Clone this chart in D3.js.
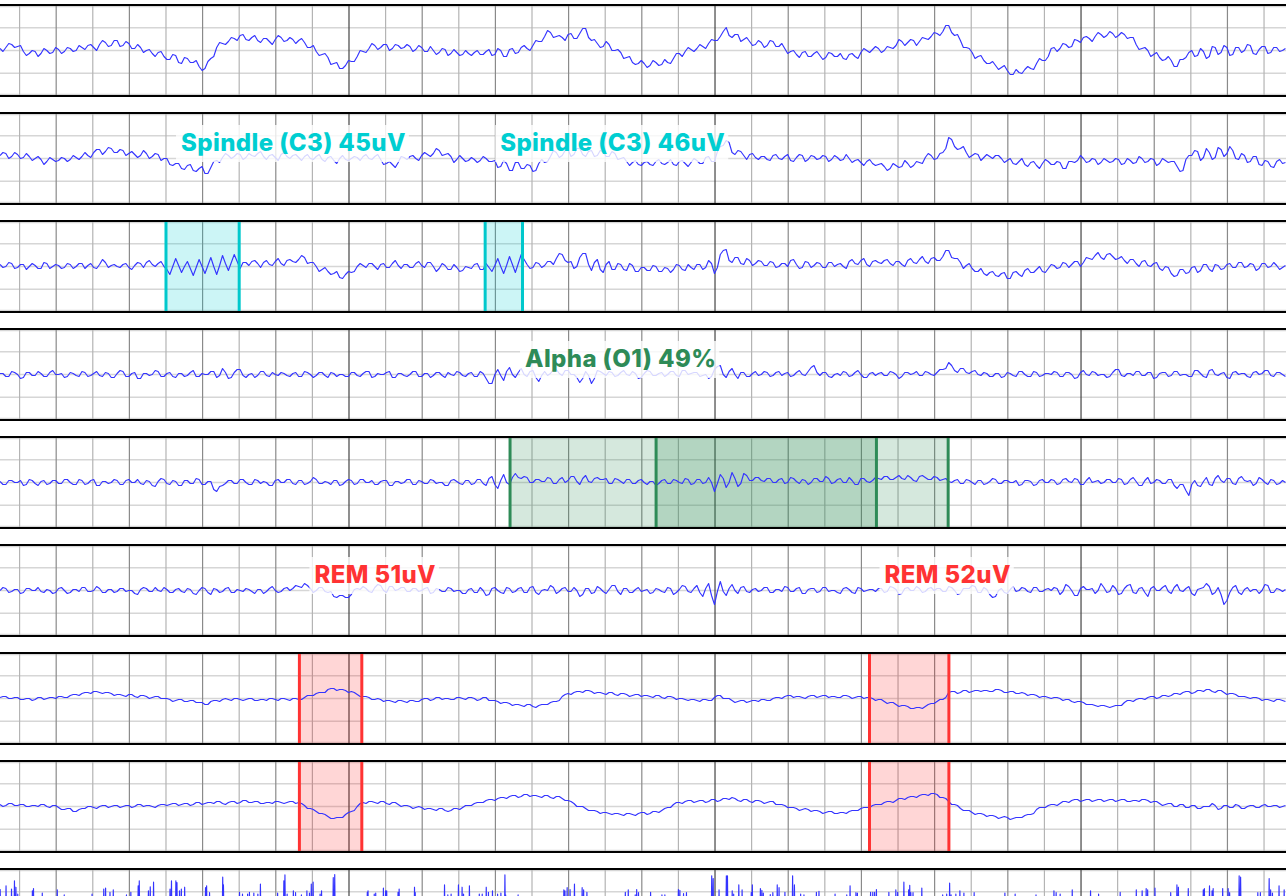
<!DOCTYPE html>
<html>
<head>
<meta charset="utf-8">
<script src="https://cdn.jsdelivr.net/npm/d3@7"></script>
<style>
  html, body { margin: 0; padding: 0; background: #fff; overflow: hidden; }
  svg { display: block; }
</style>
</head>
<body>
<svg id="chart" width="1286" height="896"></svg>
<script>
// --- time window (seconds) and sampling of the traces
const T_START = 0.465;
const T_END = 35.6;
const DT = 0.08;

// --- traces, one value per sample (uV, + is up)
const CH1 = [
  2, -1, 3, 7, 6, 3, 4, 5, -1, -5, -3, 0, -1, -6, -3, 2, 0, -3, -2, 3,
  1, -3, -1, 3, 2, -1, 0, 5, 3, 1, 5, 6, 3, 0, 6, 10, 8, 4, 5, 10,
  10, 4, 5, 9, 7, 2, 2, 6, 3, -2, 0, 1, -3, -6, -2, -1, -6, -9, -9, -4,
  -5, -12, -13, -7, -8, -12, -12, -10, -16, -20, -18, -11, -8, -6, 3, 8, 7, 6, 9, 13,
  12, 10, 15, 16, 11, 10, 13, 15, 10, 8, 12, 12, 9, 6, 11, 15, 13, 9, 10, 13,
  11, 7, 10, 12, 8, 3, 3, 5, -1, -5, -4, -3, -7, -14, -13, -12, -18, -18, -15, -10,
  -11, -11, -6, 0, -1, -2, 2, 7, 5, 1, 3, 6, 6, 0, 2, 6, 5, 2, 3, 6,
  4, -1, 1, 5, 3, -1, -1, 4, 0, -4, -2, 2, 1, -5, -3, 1, -2, -5, -4, 0,
  -3, -5, -2, 0, -4, -4, -1, 1, -5, -4, 2, 0, -6, -6, 1, 2, -3, -2, 3, 5,
  2, 0, 5, 10, 9, 9, 14, 20, 18, 13, 14, 15, 13, 10, 16, 17, 12, 12, 17, 22,
  22, 13, 10, 11, 7, 3, 4, 9, 6, 0, 0, 1, -2, -8, -7, -6, -12, -14, -13, -10,
  -13, -17, -15, -10, -12, -15, -14, -9, -12, -13, -8, -3, -3, -6, -1, 3, 1, -1, 2, 6,
  4, 2, 7, 11, 10, 10, 14, 19, 23, 15, 13, 16, 16, 9, 11, 13, 9, 5, 6, 10,
  8, 3, 5, 10, 9, 4, 4, 7, 2, -3, -1, 0, -4, -7, -2, -1, -6, -6, -3, -1,
  -5, -9, -7, -2, -3, -6, -6, -3, -8, -9, -4, -3, -6, -8, -2, 2, 0, -2, 1, 4,
  2, -2, 0, 4, 3, 2, 5, 11, 9, 5, 8, 11, 10, 5, 9, 13, 12, 11, 14, 18,
  17, 15, 19, 25, 25, 18, 15, 16, 10, 3, 3, 2, -2, -8, -6, -5, -10, -13, -13, -11,
  -15, -19, -17, -15, -20, -24, -24, -19, -22, -23, -19, -16, -18, -19, -13, -8, -10, -10, -6, 2,
  3, -1, 2, 7, 6, 3, 4, 11, 10, 8, 13, 14, 12, 9, 14, 18, 16, 13, 15, 19,
  17, 13, 15, 18, 16, 12, 13, 13, 6, 1, 2, 3, 0, -6, -4, -2, -7, -10, -9, -6,
  -10, -16, -16, -9, -9, -7, -2, 0, -6, -5, 2, -1, -8, -6, 4, 3, -4, -2, 5, 3,
  -5, -4, 3, 3, -2, 0, 6, 5, -3, -4, 1, 4, 4, -3, -2, 3, 3, -1, 0, 2
];
const CH2 = [
  3, 6, 5, 0, 2, 6, 4, 0, 1, 5, 2, -2, 0, 2, -1, -6, -3, 1, -1, -3,
  -2, 1, 0, -3, -1, 3, 1, -1, 2, 6, 3, 1, 6, 9, 9, 4, 7, 11, 10, 6,
  6, 9, 8, 3, 5, 7, 4, 1, 3, 8, 5, 0, 2, 5, 4, -2, 0, 0, -6, -7,
  -5, -5, -10, -11, -7, -6, -12, -13, -10, -8, -15, -15, -9, -3, -2, -4, 1, 5, 3, 0,
  2, 5, 4, -1, 1, 5, 3, 2, 5, 7, 2, -1, 3, 4, 1, -2, 4, 6, 2, 0,
  3, 4, 1, -2, 2, 4, 0, -1, 2, 4, -1, -3, 1, 2, -2, -5, 0, 3, -1, -2,
  0, 2, 1, -2, 2, 4, 0, -1, 2, 4, -1, -6, -5, -3, -6, -9, -4, 2, 1, -1,
  2, 3, 0, -2, 3, 6, 4, 2, 5, 10, 8, 3, 4, 5, 2, -4, -1, 3, 0, -3,
  -2, 1, -1, -4, -2, 2, 0, -3, -3, -2, -9, -8, -2, -5, -12, -12, -4, -4, -10, -10,
  -6, -7, -13, -12, -5, -1, -4, -3, 2, 8, 6, 1, 3, 8, 9, 2, 4, 10, 10, 4,
  2, 7, 8, 2, 3, 8, 7, 2, 2, 7, 5, -1, 0, 1, -3, -7, -4, -2, -6, -7,
  -4, -3, -6, -7, -3, -1, -5, -6, -4, -1, -6, -7, -3, -2, -5, -8, -4, 0, -2, -5,
  -5, 1, 2, -3, -3, 7, 12, 13, 18, 16, 6, 4, 8, 7, 3, -1, 4, 5, 1, -1,
  2, 2, -1, -2, 3, 4, 0, -1, 2, 4, -2, -3, 1, 4, 3, -3, -1, 3, 2, -1,
  0, 3, 2, -3, -1, 3, 1, -2, -1, 4, 0, -4, -2, -1, -4, -7, -3, -1, -5, -7,
  -6, -5, -8, -12, -10, -5, -7, -9, -8, -2, -5, -9, -7, -3, -4, -5, 1, 5, 3, -1,
  0, 5, 6, 10, 21, 19, 12, 9, 10, 12, 6, 1, 3, 5, 4, -2, 1, 4, 2, 0,
  3, 3, 0, -4, -2, 0, -5, -6, -3, 0, -6, -8, -4, -3, -7, -10, -5, -1, -3, -6,
  -6, -3, -4, -10, -10, -3, -3, -4, -2, 3, 0, -4, -3, 0, -1, -6, -4, 0, -2, -4,
  -3, 0, -1, -6, -5, 0, -2, -5, -4, 2, 0, -4, -3, 0, -1, -7, -5, 0, -2, -4,
  -3, -3, -8, -13, -12, -1, 3, 3, 8, 7, -2, 1, 10, 6, -1, 1, 11, 9, 2, 5,
  12, 8, 0, -1, 5, 3, -4, -3, 2, 2, -6, -7, -2, -3, -8, -9, -3, -1, -5, -4
];
const CH3 = [
  2, -1, 0, 4, 3, -2, -1, 2, 2, -3, 0, 3, 1, -2, -2, 4, 3, -2, 0, 2,
  1, -2, -1, 3, 2, -2, 0, 3, 3, -2, 1, 3, -1, -2, 2, 7, 4, -1, 1, 2,
  0, -1, 2, 3, -1, -3, 1, 4, 3, -1, 4, 6, 2, 0, 3, 5, 0, -3, -8, 0,
  8, 1, -6, 0, 5, -2, -9, -1, 7, 0, -7, 1, 9, 0, -8, 1, 11, 3, -4, 4,
  12, 5, -2, 4, 4, 1, 5, 6, 3, -1, 4, 6, 2, 1, 5, 8, 3, 1, 6, 7,
  5, 4, 7, 11, 9, 3, 4, 4, 0, -5, -3, -1, -5, -8, -7, -5, -11, -12, -8, -5,
  -6, -5, 0, 3, 1, -1, 3, 3, 0, -3, 2, 3, -1, -1, 3, 6, 1, -2, 2, 2,
  -1, -1, 3, 5, 1, -1, 4, 4, 0, -5, -2, 3, 1, -3, -3, 2, -1, -5, -4, 0,
  -1, -2, 2, 3, -3, -3, 3, -1, -5, 1, 8, 0, -7, 1, 10, 2, -6, 3, 12, 7,
  2, -2, -1, 4, 3, -1, 1, 5, 5, 2, 8, 13, 12, 6, 4, 5, -2, 0, 9, 13,
  13, 2, -4, 4, 7, -3, -6, 2, 5, -3, -3, 3, 2, -3, -4, 3, 1, -5, -5, -1,
  -1, -4, -4, 1, 0, -5, -5, -1, -2, -6, -3, 2, 1, -3, -4, 2, -1, -3, 2, 2,
  -3, -1, 6, 3, -7, -1, 12, 16, 17, 6, 4, 9, 9, 3, 2, 8, 6, 1, 3, 6,
  5, 1, 1, 5, 4, -1, 0, 3, 3, 0, 6, 7, 2, -2, -1, 5, 4, -1, 1, 4,
  3, -1, -1, 4, 4, 0, 2, 3, 0, -2, 5, 7, 3, 2, 6, 8, 2, 0, 5, 6,
  4, 3, 6, 7, 3, 1, 5, 5, 2, 0, 6, 8, 4, 3, 7, 10, 5, 3, 8, 9,
  6, 6, 10, 16, 16, 9, 8, 8, 4, -2, 1, 3, -2, -5, -5, -2, -7, -9, -6, -5,
  -9, -10, -7, -6, -12, -12, -6, -5, -8, -10, -4, -2, -6, -6, -3, 0, -5, -6, -2, 2,
  1, -2, -1, 4, 3, -1, 2, 5, 5, 0, 4, 9, 8, 7, 11, 14, 9, 7, 12, 13,
  10, 7, 8, 10, 6, 3, 7, 7, 3, 0, 5, 6, 1, 0, 3, 4, -2, -4, 0, -1,
  -7, -10, -9, -3, -3, -7, -6, -1, 0, -6, -4, 2, 2, -3, -5, 2, 1, -3, -2, 2,
  3, -1, -1, 4, 4, -1, 0, 3, 2, -4, -2, 3, 3, -1, 0, 4, 1, -3, -1, 1
];
const CH4 = [
  1, 1, -2, -2, 3, 2, 0, -4, -3, 2, 2, -1, -1, 3, 1, -2, -2, 2, 4, 0,
  0, 1, -3, -2, 2, 1, -1, -2, 3, 2, -2, -1, 1, 3, -1, -2, 2, 1, -3, -3,
  1, 4, 3, -2, -2, 1, 2, -4, -4, 1, 1, -1, 0, 4, 3, -2, -2, 1, 2, -2,
  -3, 1, 1, -2, -1, 2, 4, -2, -2, 1, 0, 0, 3, 3, -3, -1, 6, 2, -4, -3,
  2, 5, 5, -1, -3, 0, 1, -3, -1, 3, 3, -1, -2, 2, 0, -1, 2, 1, -1, -2,
  1, 2, -2, -2, 3, 2, 0, -3, -1, 2, 2, -1, -3, 2, 1, -2, 0, 0, -2, -2,
  2, 2, -1, -2, 1, 3, 3, -3, -2, 1, 0, 0, 2, 3, -3, -3, 1, 1, -1, -2,
  0, 3, 3, -2, -2, 1, 1, -3, -1, 2, 2, -1, -3, 2, 0, -1, 3, 2, -1, -2,
  1, 2, -2, -2, 3, 1, -4, -9, -9, 0, 5, -1, -6, 3, 7, 0, -3, 2, 6, 0,
  -2, 3, 4, -3, -7, -1, 3, -1, 1, 5, 5, 1, -1, 4, 4, 0, 0, -3, -8, -4,
  3, -1, -9, -4, 4, 3, 1, -1, 3, 2, -2, -1, 2, 4, 0, -1, 3, 1, -4, -3,
  1, 4, 3, -1, -1, 1, 2, -2, 0, 3, 3, -1, -2, 4, 4, 0, 1, 2, 2, -2,
  -1, 0, -4, -2, 5, 8, 9, 0, -3, 3, 6, 0, -4, 2, 2, -2, -2, 1, 3, -1,
  0, 3, 2, -2, -1, 2, 3, -1, 1, 2, -2, -1, 2, 4, 0, -1, 3, 7, 9, 2,
  -1, 2, 2, -2, -3, 0, 1, -1, 3, 2, -2, -1, 2, 4, 0, -3, -3, 1, 2, -1,
  1, 2, -1, -1, 3, 2, 0, -4, -2, 2, 2, 0, 1, 3, -1, -1, 3, 2, 0, -1,
  2, 5, 5, 6, 12, 9, 4, 2, 6, 6, 2, 1, 3, 4, 0, -1, 2, 1, -2, -2,
  1, 1, -3, -2, 2, 1, -1, -2, 3, 3, 0, -2, -2, 3, 2, -2, -1, 1, 1, 0,
  3, 2, -2, -2, 2, 2, 0, -4, -3, 2, 4, 0, -1, 3, 2, -1, 0, 0, -3, -2,
  2, 5, 5, -1, -2, 1, 1, -1, 3, 3, -1, -1, 2, 2, -4, -3, 1, 2, 2, -2,
  -1, 3, 3, -1, 0, 0, -2, -2, 4, 4, 1, -2, -3, 4, 5, 0, -1, 1, 2, -3,
  -4, 2, 3, 0, 1, 1, -2, -3, 2, 3, 0, 1, 4, 4, -1, -2, 2, 2, 0, -2
];
const CH5 = [
  1, -2, -2, 2, 2, 0, 0, 2, -3, -2, 3, 2, -1, -3, 1, 2, -2, -1, 2, 2,
  -1, -1, 3, 3, 0, -2, -2, 3, 2, -2, -1, 2, 3, -3, -3, 1, 1, -1, 0, 3,
  2, -2, -2, 2, 3, 0, 0, 3, -1, -2, 2, 1, -3, -4, 1, 4, 3, -1, -2, 2,
  1, -3, -3, 2, 2, -1, -1, 4, 3, -2, -2, 1, 1, -7, -9, -4, -3, -1, 2, 2,
  -1, -1, 3, 3, 0, -2, -2, 3, 2, -1, 1, 0, -3, -3, 2, 3, 0, 0, 3, 3,
  -1, -2, 2, 2, -2, -1, 1, 5, 3, -1, -1, 1, 0, -2, 2, 2, -3, -2, 1, 3,
  2, -2, -1, 3, 3, 0, 0, 2, -2, -2, 1, 2, 2, -3, -3, 1, 1, -1, 0, 3,
  3, -2, -2, 2, 1, -1, -1, 3, 2, -1, 0, 0, -3, -3, 2, 3, 1, -1, -2, 2,
  2, -2, -1, 3, 3, -1, -3, 4, 6, -2, -6, 2, 8, 0, -2, 5, 9, 5, 4, 6,
  5, 0, 0, 3, 3, 1, 1, 5, 4, -1, -1, 3, 5, 0, 2, 6, 6, 1, -2, 4,
  7, 1, 0, 4, 5, 3, 3, 4, -1, -1, 4, 3, 1, -1, 3, 3, -1, -1, 2, 3,
  0, -2, 1, 1, -3, -1, 2, 3, -1, -1, 3, 2, 0, -1, 4, 3, -2, -1, 3, 3,
  -1, 0, 5, 0, -9, -1, 8, 4, -5, 0, 10, 4, -4, -1, 9, 7, 2, 2, 5, 5,
  2, 1, 4, 4, 0, 0, 3, 4, -1, 0, 5, 4, 1, -1, 3, 2, -2, 0, 4, 4,
  1, 1, 6, 4, -1, 0, 3, 4, 0, 0, 5, 2, -2, -2, 4, 4, 1, 0, 2, 5,
  4, 3, 6, 6, 3, 3, 5, 7, 4, 3, 7, 5, 2, 1, 6, 7, 5, 3, 3, 6,
  5, 2, 3, 4, 1, 0, 2, 3, -1, -1, 3, 2, 0, -2, 2, 2, -2, -1, 1, 4,
  3, -1, -1, 2, 2, 0, 0, 2, -3, -2, 2, 2, 1, -3, -2, 2, 3, 0, 0, 3,
  2, -2, -1, 3, 4, 1, 0, 4, 3, -2, -2, 2, 5, 0, 1, 2, -1, 0, 3, 3,
  0, 0, 4, 3, -2, -1, 3, 5, 1, -3, -3, 2, 5, -1, 0, 3, 2, -1, -1, 3,
  3, -3, -6, -2, -2, -8, -13, -2, 2, -3, -4, 1, 5, -2, -3, 4, 7, 2, 0, 4,
  4, -1, -2, 4, 6, 2, 1, 2, -3, -1, 5, 3, 0, -2, 3, 2, -2, -1, 2, 0
];
const CH6 = [
  0, 3, 2, -2, -1, 1, 1, -3, -2, 2, 2, 0, 0, 3, -1, -2, 1, 0, -3, -2,
  2, 3, 0, -3, -2, 1, 1, -1, 3, 3, -1, -1, 0, 4, 2, -2, -2, 1, 1, -2,
  -1, 2, 2, -1, 0, 0, -3, -4, 1, 3, 2, -1, -1, 3, 0, -1, 3, 1, -2, -2,
  1, 2, -1, -2, 2, 1, -3, -4, 0, 3, 2, -2, -4, 2, 1, -2, -1, 2, 3, -2,
  -2, 1, 0, -1, 2, 1, -1, -3, 1, 1, -3, -1, 2, 4, 0, -2, -1, 2, 3, 0,
  2, 5, 4, 3, 7, 5, 2, -2, 0, 3, 3, -1, -2, -1, -6, -7, -5, -5, -7, -7,
  -4, 1, 2, 1, 4, 2, -1, -2, 3, 6, 5, 0, -2, 4, 4, 0, 1, 3, 3, -1,
  -1, 2, 2, -1, 0, 2, 3, -3, -2, 2, 1, -1, -1, 3, 2, -1, 0, 0, -3, -3,
  1, 2, -2, -2, 3, 0, -5, -4, 2, 3, 0, -2, -3, 3, 2, -2, -1, 2, 3, -2,
  -2, 3, 4, -2, -4, 0, 1, 0, 5, 3, -3, -1, 2, 3, -1, -1, 3, 0, -6, -4,
  2, 2, -3, -2, 4, 2, -1, -3, 1, 5, 5, -1, -4, 2, 2, -2, -2, 1, 3, -1,
  0, 1, -3, -2, 2, 1, -1, -2, 3, 2, -4, -2, 1, 5, 4, -1, -2, 2, 5, -2,
  -6, 2, 7, -5, -14, -1, 9, -1, -5, 2, 6, 0, -3, 3, 4, -1, -2, 1, 2, -1,
  0, 3, 3, -2, -2, 1, 1, -1, 4, 3, -1, -1, 2, 3, -3, -3, 1, 2, 2, -2,
  -1, 3, 3, -1, 0, 0, -2, -3, 2, 3, 1, -2, -3, 3, 2, -1, 0, 1, 1, -1,
  2, 2, -2, -1, 4, 3, 1, -4, -3, 2, 3, 0, 0, 4, 2, -2, -1, 2, 3, 0,
  2, 2, -1, -1, 4, 3, 0, -4, -3, 2, 2, 2, 5, 4, -2, -2, 3, 1, -4, -7,
  -6, 0, 2, -2, -3, 1, 4, -1, 0, 3, 2, -1, -2, 3, 3, -1, -1, 1, 2, 0,
  3, 2, -4, -1, 6, 4, 0, -5, -5, 2, 4, 1, 1, 2, -3, 0, 7, 3, -2, -1,
  5, 2, -4, -3, 2, 5, 6, -2, -3, 2, 3, -2, -6, 2, 4, 0, 0, 3, 5, -1,
  -3, 3, 6, 0, -1, 2, 4, -3, -5, 1, 2, 3, 7, 4, -4, -2, 3, -4, -14, -10,
  -2, 3, 5, -2, -4, 1, 3, -1, 1, 1, -3, 0, 6, 5, -2, -2, 2, 1, -1, 1
];
const CH7 = [
  1, 2, 2, 0, 0, 1, 1, -1, -1, 0, 0, -2, -1, 1, 1, -1, 0, 1, 1, 0,
  2, 2, 1, 1, 3, 4, 4, 3, 5, 6, 6, 5, 7, 7, 6, 5, 6, 6, 5, 3,
  4, 4, 3, 2, 4, 4, 2, 1, 3, 3, 2, 0, 1, 2, 2, 0, 0, 0, -1, -3,
  -2, -1, -1, -3, -3, -2, -2, -4, -4, -4, -6, -6, -3, -2, -2, -3, -1, 0, -1, -2,
  0, 0, -1, -2, -1, 0, 0, -2, -2, -1, -1, -2, 0, 0, -1, -2, 0, 0, -1, -2,
  0, 0, -1, -1, 1, 3, 3, 3, 5, 6, 6, 6, 9, 10, 10, 8, 9, 9, 8, 6,
  7, 6, 4, 2, 2, 2, 1, -1, -1, 0, -1, -3, -2, -2, -3, -4, -2, -2, -3, -4,
  -2, -2, -3, -3, -1, 0, 0, -2, -1, 1, 1, -1, 0, 0, -1, -1, 1, 1, 0, -1,
  1, 1, 0, -2, -1, 1, 1, -2, -2, -2, -3, -5, -4, -4, -5, -7, -6, -6, -7, -8,
  -6, -6, -8, -9, -7, -6, -6, -6, -4, -3, -3, -2, 2, 4, 5, 4, 6, 7, 7, 6,
  8, 8, 7, 5, 6, 6, 5, 4, 6, 6, 4, 3, 5, 5, 4, 2, 3, 4, 4, 2,
  3, 3, 2, 1, 3, 3, 1, 0, 2, 2, 1, -1, 0, 0, -1, -2, -1, -1, -2, -3,
  -1, -1, -2, -2, 1, 3, 3, 0, 0, 0, -2, -4, -3, -2, -2, -4, -3, -2, -2, -3,
  -1, -1, -2, -2, 0, 1, 1, 0, 2, 3, 3, 1, 2, 2, 1, 0, 2, 3, 3, 1,
  2, 3, 3, 1, 2, 2, 1, 1, 3, 3, 2, 0, 1, 2, 2, 0, 1, 1, 0, -2,
  -1, -1, -3, -5, -4, -4, -6, -8, -7, -7, -8, -10, -10, -9, -9, -10, -8, -6, -5, -5,
  -3, -1, -1, 1, 6, 7, 7, 5, 6, 8, 8, 6, 7, 8, 8, 7, 8, 8, 7, 7,
  9, 9, 8, 6, 6, 7, 7, 5, 5, 6, 5, 3, 4, 4, 3, 1, 2, 2, 1, 0,
  1, 1, 0, -2, -1, -1, -3, -4, -3, -3, -4, -6, -6, -6, -7, -8, -7, -7, -8, -9,
  -8, -7, -7, -7, -4, -2, -2, -3, -1, 0, 0, -1, 1, 2, 2, 0, 1, 3, 3, 2,
  3, 5, 5, 4, 6, 7, 7, 5, 6, 8, 8, 7, 9, 9, 7, 6, 8, 8, 6, 4,
  5, 5, 4, 2, 2, 2, 1, 0, 1, 1, 0, -2, -1, -1, -2, -3, -1, -1, -2, -3
];
const CH8 = [
  2, 0, 1, 3, 3, 1, 1, 2, 2, 0, 0, 1, 1, 0, 2, 2, 0, -1, 1, 1,
  -1, -3, -3, -2, -2, -5, -5, -3, -2, -2, 0, 0, -1, -2, 0, 1, 1, -1, 0, 1,
  1, -1, 0, 1, 1, -1, 0, 2, 2, 0, 1, 1, 0, -1, 1, 2, 2, 1, 2, 3,
  3, 1, 2, 3, 3, 1, 2, 4, 4, 2, 3, 4, 4, 3, 5, 5, 3, 2, 4, 5,
  5, 3, 4, 6, 6, 4, 4, 5, 5, 3, 3, 4, 4, 3, 5, 5, 4, 3, 4, 5,
  5, 3, 4, 3, 1, -2, -2, -3, -5, -7, -7, -8, -10, -12, -12, -11, -11, -11, -8, -6,
  -5, -4, 0, 3, 4, 3, 5, 5, 4, 3, 5, 5, 3, 2, 4, 4, 2, 0, 1, 1,
  0, -2, -1, 0, -1, -3, -2, -2, -3, -4, -2, -2, -4, -5, -4, -2, -2, -3, -1, 1,
  1, 1, 3, 4, 4, 4, 6, 7, 7, 6, 8, 9, 9, 8, 10, 11, 11, 9, 10, 12,
  12, 10, 11, 11, 10, 9, 11, 11, 9, 8, 10, 10, 8, 6, 6, 5, 3, 0, 0, 0,
  -2, -4, -4, -4, -5, -7, -6, -6, -7, -8, -7, -7, -8, -9, -7, -7, -8, -9, -7, -6,
  -6, -8, -7, -5, -5, -6, -4, -2, -1, -1, 2, 4, 4, 3, 5, 6, 6, 4, 5, 6,
  6, 4, 5, 7, 7, 5, 6, 8, 8, 7, 9, 8, 6, 5, 7, 7, 5, 4, 6, 6,
  5, 3, 4, 5, 5, 2, 2, 2, 1, -1, -1, -1, -2, -4, -3, -2, -3, -5, -4, -4,
  -5, -7, -6, -5, -5, -7, -7, -6, -6, -7, -5, -4, -4, -4, -2, -1, -1, -1, 1, 2,
  2, 2, 4, 5, 5, 4, 6, 8, 8, 7, 9, 10, 10, 9, 11, 12, 12, 11, 13, 13,
  12, 9, 9, 8, 5, 2, 2, 1, -2, -4, -4, -4, -6, -8, -7, -7, -8, -10, -9, -9,
  -10, -12, -11, -10, -11, -13, -12, -11, -11, -11, -9, -8, -8, -7, -3, -1, -1, -1, 1, 2,
  2, 1, 3, 5, 5, 4, 6, 7, 7, 5, 6, 7, 7, 5, 6, 7, 7, 5, 6, 7,
  7, 5, 6, 7, 7, 5, 5, 6, 6, 5, 7, 7, 6, 4, 5, 5, 3, 1, 2, 3,
  3, 0, 0, 2, 2, -1, -1, 1, 1, -2, -2, 0, 0, 0, 3, 1, -3, -2, 1, 1,
  -1, -1, 2, 1, -2, -2, 0, 1, 1, -1, -1, 1, 2, 0, 0, 1, 1, -1, 0, 1
];

// --- last channel (EMG): bursts, time (s) and peak (uV)
const EMG_T = [
  0.47, 0.63, 0.78, 0.86, 0.90, 0.95, 1.35, 1.38, 1.62, 2.03,
  2.22, 2.98, 3.30, 3.35, 3.47, 3.56, 3.92, 4.04, 4.24, 4.27,
  4.52, 4.57, 4.66, 5.11, 5.15, 5.27, 5.30, 5.37, 5.42, 5.51,
  6.08, 6.11, 6.19, 6.55, 6.57, 7.01, 7.09, 7.23, 7.28, 7.40,
  7.51, 7.58, 8.05, 8.22, 8.25, 8.31, 8.48, 8.54, 8.70, 8.85,
  8.92, 8.97, 9.02, 9.21, 9.25, 9.57, 9.61, 10.50, 10.52, 10.69,
  10.73, 10.94, 11.00, 11.03, 11.34, 11.37, 11.79, 11.81, 12.61, 12.70,
  12.79, 12.99, 13.09, 13.13, 13.29, 13.56, 13.64, 13.75, 13.81, 13.92,
  14.06, 14.15, 14.26, 14.28, 14.62, 15.87, 15.90, 15.96, 16.04, 16.16,
  16.37, 16.41, 16.50, 17.55, 17.63, 17.82, 17.86, 17.91,
  18.24, 18.55, 18.63, 19.00, 19.04, 19.14, 19.22, 19.91, 19.95, 20.11,
  20.31, 20.34, 20.47, 20.51, 20.65, 20.74, 20.99, 21.02, 21.24, 21.28,
  21.32, 21.51, 21.58, 21.70, 21.75, 21.91, 22.12, 22.17, 22.34, 22.43,
  22.77, 22.84, 23.28, 23.60, 23.69, 23.85, 23.89, 24.25, 24.31, 24.36,
  24.41, 24.75, 24.94, 24.99, 25.16, 25.29, 25.32, 25.35, 25.41, 25.65,
  26.22, 26.33, 26.41, 26.45, 26.58, 26.69, 26.80, 27.08, 27.92, 28.20,
  28.77, 29.26, 29.32, 29.43, 29.76, 30.26, 30.48, 31.07, 31.51, 31.67,
  31.78, 31.82, 32.02, 32.45, 32.62, 32.66, 32.93, 33.34, 33.37, 33.51,
  33.58, 33.61, 33.87, 34.02, 34.06, 34.32, 34.36, 34.83, 34.90, 35.14,
  35.18, 35.23, 35.41, 35.55
];
const EMG_V = [
  55, 63, 56, 74, 60, 45, 52, 57, 47, 54,
  43, 45, 56, 58, 49, 54, 43, 49, 63, 74,
  52, 61, 71, 56, 74, 74, 70, 52, 56, 60,
  59, 63, 48, 82, 65, 49, 45, 45, 49, 47,
  45, 67, 47, 74, 87, 45, 52, 48, 43, 52,
  47, 67, 71, 45, 52, 81, 88, 49, 52, 45,
  47, 58, 52, 52, 49, 56, 60, 48, 65, 43,
  45, 65, 60, 45, 63, 45, 45, 60, 49, 52,
  45, 47, 87, 43, 43, 54, 52, 59, 55, 67,
  59, 54, 49, 49, 54, 43, 55, 48,
  49, 43, 43, 55, 53, 46, 48, 85, 79, 54,
  85, 85, 52, 45, 65, 54, 48, 65, 57, 53,
  47, 44, 48, 65, 59, 49, 85, 65, 45, 43,
  49, 51, 45, 43, 63, 48, 47, 49, 49, 49,
  55, 49, 54, 49, 71, 54, 64, 48, 48, 58,
  43, 45, 69, 43, 45, 52, 47, 48, 47, 45,
  43, 52, 48, 45, 54, 52, 45, 49, 54, 52,
  57, 54, 58, 48, 65, 60, 57, 54, 57, 63,
  52, 57, 57, 57, 48, 85, 82, 48, 48, 79,
  54, 47, 63, 54
];

// --- display range of each channel (+/- uV over the panel)
const CHANNEL_RANGE = [45.5, 45.5, 45.5, 45.5, 45.5, 45.5, 45.5, 45.5, 100];

// --- scored events
const EVENT_KIND = ['spindle', 'spindle', 'alpha', 'alpha', 'rem', 'rem'];
const EVENT_START = [5.0, 13.72, 14.40, 18.39, 8.645, 24.22];
const EVENT_END = [7.0, 14.74, 24.41, 26.37, 10.35, 26.39];
const EVENT_LABEL = ['Spindle (C3) 45uV', 'Spindle (C3) 46uV', 'Alpha (O1) 49%', '', 'REM 51uV', 'REM 52uV'];
const EVENT_CHANNELS = [[2], [2], [4], [4], [6, 7], [6, 7]];
const EVENT_LABEL_CHANNEL = [1, 1, 3, 3, 5, 5];

const TRACES = [CH1, CH2, CH3, CH4, CH5, CH6, CH7, CH8];

// --- layout
const WIDTH = 1286;
const HEIGHT = 896;
const PANEL_TOP = 5;
const PANEL_H = 91;
const PANEL_STEP = 108;
const N_PANELS = 9;

const KIND_STYLE = {
  spindle: { fill: 'rgba(0, 206, 209, 0.2)', edge: '#00c8cc', text: '#00ced1' },
  alpha: { fill: 'rgba(46, 139, 87, 0.2)', edge: '#2e8b57', text: '#2e8b57' },
  rem: { fill: 'rgba(255, 0, 0, 0.16)', edge: '#ff3333', text: '#ff3333' },
};

const svg = d3.select('#chart');

const x = d3.scaleLinear().domain([T_START, T_END]).range([0, WIDTH]);
const panel_top = (i) => PANEL_TOP + i * PANEL_STEP;
const y_for = (i) => d3.scaleLinear()
  .domain([-CHANNEL_RANGE[i], CHANNEL_RANGE[i]])
  .range([panel_top(i) + PANEL_H, panel_top(i)]);

const seconds = d3.range(Math.ceil(T_START), Math.floor(T_END) + 1);
const line_color = (s) => {
  if (s % 10 == 0) return '#444';
  if (s % 2 == 0) return '#8a8a8a';
  return '#b4b4b4';
};

// the emg channel is drawn from its bursts
let emg_points = [[T_START, 0]];
EMG_T.forEach((t, k) => {
  emg_points.push([t - 0.012, 0], [t, EMG_V[k]], [t + 0.012, 0]);
});
emg_points.push([T_END, 0]);

let trace_points = TRACES.map((values) => {
  return values.map((v, k) => [T_START + k * DT, v]);
});
trace_points.push(emg_points);

let defs = svg.append('defs');

for (let i = 0; i < N_PANELS; i++) {
  let top = panel_top(i);
  let y = y_for(i);
  let g = svg.append('g').attr('class', 'panel');

  defs.append('clipPath')
    .attr('id', 'clip-' + i)
    .append('rect')
    .attr('x', 0)
    .attr('y', top)
    .attr('width', WIDTH)
    .attr('height', PANEL_H);

  // horizontal grid, quarters of the panel
  g.selectAll('.hgrid')
    .data([0, 1, 2, 3, 4])
    .enter().append('line')
    .attr('x1', 0)
    .attr('x2', WIDTH)
    .attr('y1', (q) => top + q * PANEL_H / 4 + (q == 0 ? 1.5 : q == 4 ? -1.5 : 0))
    .attr('y2', (q) => top + q * PANEL_H / 4 + (q == 0 ? 1.5 : q == 4 ? -1.5 : 0))
    .attr('stroke', '#d6d6d6')
    .attr('stroke-width', 1.5);

  // vertical grid, one line per second
  g.selectAll('.vgrid')
    .data(seconds)
    .enter().append('line')
    .attr('x1', (d) => x(d))
    .attr('x2', (d) => x(d))
    .attr('y1', top)
    .attr('y2', top + PANEL_H)
    .attr('stroke', line_color)
    .attr('stroke-width', 1.2);

  let events = d3.range(EVENT_KIND.length)
    .filter((k) => EVENT_CHANNELS[k].includes(i));

  g.selectAll('.event-box')
    .data(events)
    .enter().append('rect')
    .attr('x', (k) => x(EVENT_START[k]))
    .attr('width', (k) => x(EVENT_END[k]) - x(EVENT_START[k]))
    .attr('y', top)
    .attr('height', PANEL_H)
    .attr('fill', (k) => KIND_STYLE[EVENT_KIND[k]].fill);

  g.append('path')
    .datum(trace_points[i])
    .attr('clip-path', 'url(#clip-' + i + ')')
    .attr('d', d3.line().x((d) => x(d[0])).y((d) => y(d[1])))
    .attr('fill', 'none')
    .attr('stroke', '#3434ff')
    .attr('stroke-width', 1.15)
    .attr('stroke-linejoin', 'round');

  events.forEach((k) => {
    [EVENT_START[k], EVENT_END[k]].forEach((t) => {
      g.append('line')
        .attr('x1', x(t))
        .attr('x2', x(t))
        .attr('y1', top)
        .attr('y2', top + PANEL_H)
        .attr('stroke', KIND_STYLE[EVENT_KIND[k]].edge)
        .attr('stroke-width', 3);
    });
  });

  // frame
  [top, top + PANEL_H].forEach((yy) => {
    g.append('line')
      .attr('x1', 0)
      .attr('x2', WIDTH)
      .attr('y1', yy)
      .attr('y2', yy)
      .attr('stroke', '#000')
      .attr('stroke-width', 2);
  });
}

// labels sit in the channel above the scored one
d3.range(EVENT_KIND.length)
  .filter((k) => EVENT_LABEL[k] != '')
  .forEach((k) => {
    let top = panel_top(EVENT_LABEL_CHANNEL[k]);
    let tx = x(EVENT_START[k]) + 15;
    let g = svg.append('g').attr('class', 'label');
    let bg = g.append('rect')
      .attr('fill', '#fff')
      .attr('fill-opacity', 0.8);
    let text = g.append('text')
      .attr('x', tx)
      .attr('y', top + 38)
      .attr('font-family', 'Inter, Roboto, sans-serif')
      .attr('font-weight', 800)
      .attr('font-size', 24)
      .attr('letter-spacing', 0.4)
      .attr('fill', KIND_STYLE[EVENT_KIND[k]].text)
      .text(EVENT_LABEL[k]);
    let w = text.node().getComputedTextLength();
    bg.attr('x', tx - 5)
      .attr('y', top + 12)
      .attr('width', w + 8)
      .attr('height', 37);
  });
</script>
</body>
</html>
